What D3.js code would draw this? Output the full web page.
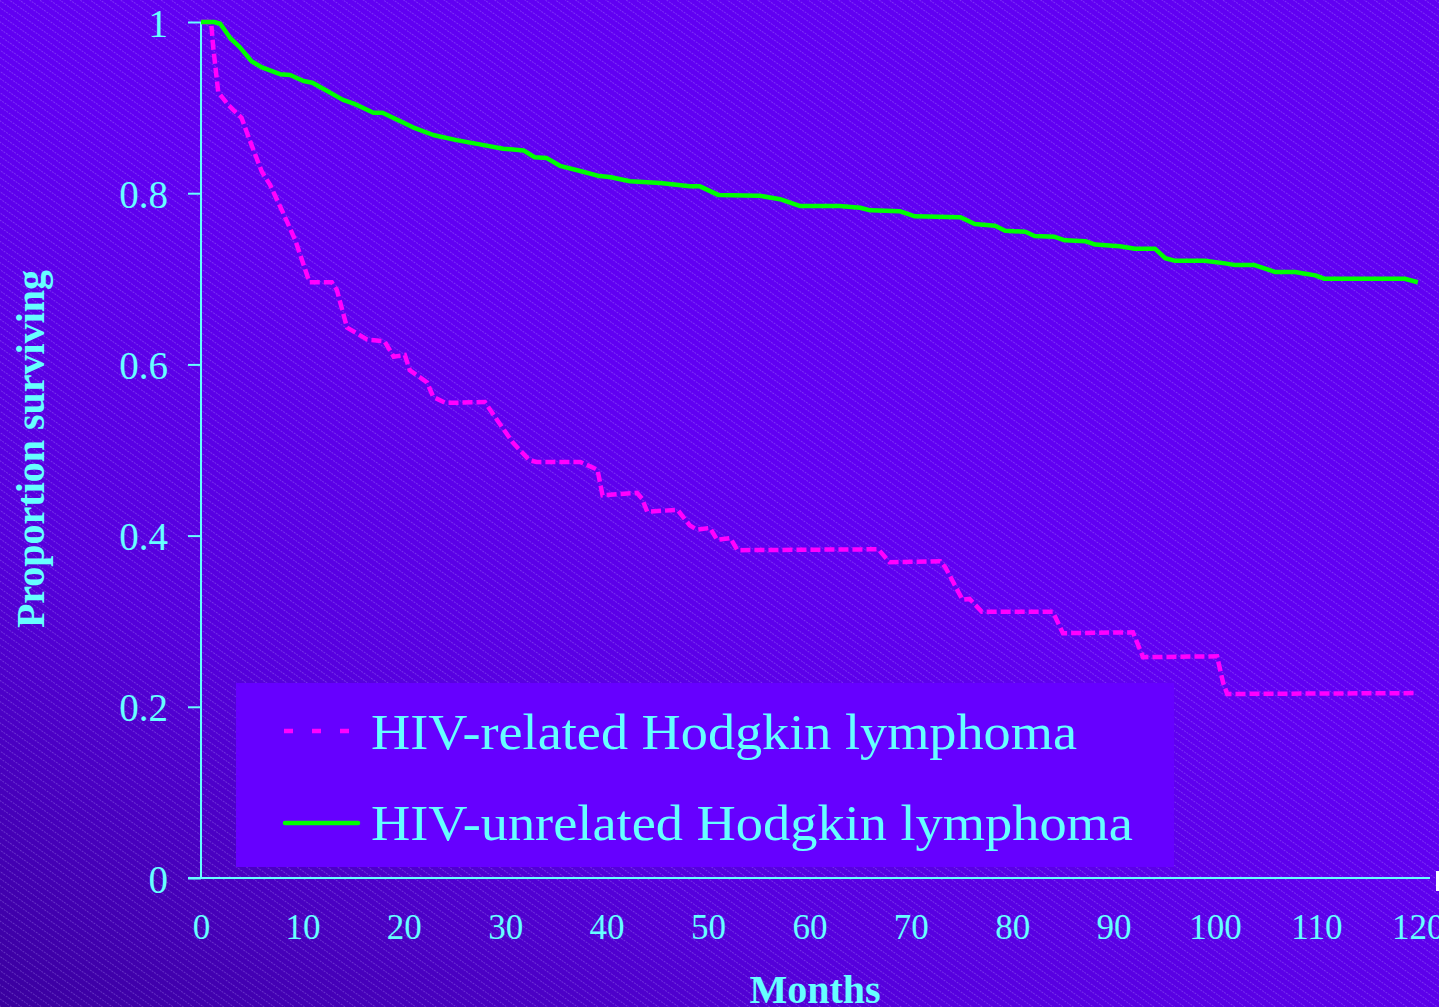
<!DOCTYPE html>
<html>
<head>
<meta charset="utf-8">
<script src="https://cdn.jsdelivr.net/npm/d3@7"></script>
<style>
  html, body { margin: 0; padding: 0; background: #5a00e6; overflow: hidden; }
  svg { display: block; font-family: "Liberation Serif", "Times New Roman", serif; }
</style>
</head>
<body>
<div class="chart-container"></div>
<script>
    // HIV-unrelated Hodgkin lymphoma (solid green)
    const unrelated_months = [0, 1.3, 1.9, 2.9, 3.8, 5.0, 6.0, 7.8, 8.8, 10.1, 11.0, 14.0, 15.0, 17.0, 17.9,
      20.9, 22.9, 25.2, 27.5, 29.8, 31.8, 32.9, 34.1, 35.4, 37.4, 39.3, 40.3, 42.3, 45.3, 48.2, 49.2,
      51.0, 55.1, 57.1, 59.1, 63.0, 65.0, 66.0, 68.9, 70.4, 74.9, 76.3, 78.3, 79.3, 81.3, 82.2, 84.2,
      85.2, 87.2, 88.2, 90.6, 92.1, 94.1, 95.1, 96.1, 99.0, 101.0, 102.0, 103.9, 105.9, 107.9, 108.9,
      109.9, 110.8, 118.7, 120];
    const unrelated_surv = [1.0, 1.0, 0.998, 0.981, 0.971, 0.954, 0.947, 0.939, 0.938, 0.931, 0.929, 0.909, 0.905, 0.894, 0.894,
      0.877, 0.868, 0.862, 0.857, 0.852, 0.850, 0.842, 0.841, 0.832, 0.826, 0.820, 0.819, 0.814, 0.812, 0.808, 0.808,
      0.798, 0.797, 0.793, 0.785, 0.785, 0.783, 0.780, 0.779, 0.773, 0.772, 0.764, 0.762, 0.756, 0.755, 0.750, 0.749,
      0.745, 0.744, 0.740, 0.738, 0.735, 0.735, 0.724, 0.721, 0.721, 0.718, 0.716, 0.716, 0.708, 0.708, 0.706,
      0.704, 0.700, 0.700, 0.696];

    // HIV-related Hodgkin lymphoma (dashed magenta)
    const related_months = [0, 1.0, 1.2, 1.7, 2.7, 3.2, 4.0, 4.8, 6.0, 6.8, 8.1, 9.3, 10.7, 12.9, 13.4,
      14.4, 16.4, 18.1, 19.0, 20.1, 20.6, 22.3, 22.9, 24.1, 28.0, 29.2, 30.8, 32.4, 33.1, 37.4, 39.1,
      39.6, 43.0, 43.5, 44.0, 47.0, 48.2, 48.9, 50.2, 50.9, 52.2, 52.9, 66.8, 67.9, 72.9, 73.4, 74.7,
      75.1, 75.8, 77.0, 84.0, 85.0, 91.9, 92.9, 100.2, 100.8, 101.2, 119.9];
    const related_surv = [1.0, 1.0, 0.971, 0.918, 0.903, 0.897, 0.888, 0.862, 0.825, 0.810, 0.777, 0.745, 0.696, 0.696, 0.687,
      0.643, 0.629, 0.627, 0.609, 0.611, 0.593, 0.579, 0.562, 0.555, 0.556, 0.535, 0.508, 0.488, 0.486, 0.486, 0.477,
      0.447, 0.450, 0.443, 0.428, 0.430, 0.412, 0.407, 0.409, 0.395, 0.397, 0.383, 0.384, 0.369, 0.370, 0.363, 0.334,
      0.325, 0.326, 0.311, 0.311, 0.286, 0.287, 0.258, 0.259, 0.228, 0.215, 0.216];

    const x_ticks = [0, 10, 20, 30, 40, 50, 60, 70, 80, 90, 100, 110, 120];
    const y_ticks = [0, 0.2, 0.4, 0.6, 0.8, 1];
    const legend_labels = ["HIV-related Hodgkin lymphoma", "HIV-unrelated Hodgkin lymphoma"];

    const width = 1439, height = 1007;
    const text_color = "#66ffff";

    const svg = d3.select('.chart-container').append('svg')
        .attr('width', width).attr('height', height);

    const defs = svg.append('defs');
    const grad = defs.append('linearGradient').attr('id', 'bg-grad')
        .attr('x1', '0').attr('y1', '1').attr('x2', '0.45').attr('y2', '0.4');
    grad.append('stop').attr('offset', '0').attr('stop-color', '#3a009e');
    grad.append('stop').attr('offset', '0.5').attr('stop-color', '#5500dc');
    grad.append('stop').attr('offset', '1').attr('stop-color', '#6000f2');

    const hatch = defs.append('pattern').attr('id', 'hatch')
        .attr('patternUnits', 'userSpaceOnUse')
        .attr('width', 12).attr('height', 5.8)
        .attr('patternTransform', 'rotate(35)');
    hatch.append('line')
        .attr('x1', 0).attr('y1', 0.5).attr('x2', 12).attr('y2', 0.5)
        .attr('stroke', 'rgba(200,180,255,0.3)').attr('stroke-width', 0.9)
        .attr('stroke-dasharray', '2,1');

    svg.append('rect').attr('width', width).attr('height', height).attr('fill', 'url(#bg-grad)');
    svg.append('rect').attr('width', width).attr('height', height).attr('fill', 'url(#hatch)');

    const x = d3.scaleLinear().domain([0, 121.2]).range([201, 1430]);
    const y = d3.scaleLinear().domain([0, 1]).range([878, 22]);

    // legend box (drawn under the curves)
    const legend = svg.append('g');
    legend.append('rect')
        .attr('x', 236).attr('y', 683).attr('width', 938).attr('height', 184)
        .attr('fill', '#6600ff');

    // axes
    const y_axis = svg.append('g')
        .attr('transform', 'translate(201,0)')
        .call(d3.axisLeft(y).tickValues(y_ticks).tickSize(13).tickFormat(d3.format('')));
    y_axis.select('.domain').attr('stroke', text_color).attr('stroke-width', 2)
        .attr('d', 'M0,' + y(1) + 'V' + y(0));
    y_axis.selectAll('.tick line').attr('stroke', text_color).attr('stroke-width', 2);
    y_axis.selectAll('.tick text')
        .attr('x', -33).attr('dy', '0.36em')
        .attr('fill', text_color)
        .style('font-size', '39px')
        .style('font-family', '"Liberation Serif", serif');

    const x_axis = svg.append('g')
        .attr('transform', 'translate(0,878)')
        .call(d3.axisBottom(x).tickValues(x_ticks).tickSize(0).tickFormat(d3.format('')));
    x_axis.select('.domain').attr('stroke', text_color).attr('stroke-width', 2)
        .attr('d', 'M188,0H1430');
    x_axis.selectAll('.tick text')
        .attr('y', 61).attr('dy', 0)
        .attr('fill', text_color)
        .style('font-size', '35px')
        .style('font-family', '"Liberation Serif", serif');

    // axis titles
    svg.append('text')
        .attr('x', 815).attr('y', 1003)
        .attr('text-anchor', 'middle')
        .attr('fill', text_color)
        .style('font-size', '40px').style('font-weight', 'bold')
        .text('Months');
    svg.append('text')
        .attr('transform', 'translate(44,449) rotate(-90)')
        .attr('text-anchor', 'middle')
        .attr('fill', text_color)
        .style('font-size', '40px').style('font-weight', 'bold')
        .text('Proportion surviving');

    // curves
    const line = d3.line().x(d => x(d[0])).y(d => y(d[1]));
    const related_data = related_months.map((m, i) => [m, related_surv[i]]);
    const unrelated_data = unrelated_months.map((m, i) => [m, unrelated_surv[i]]);

    svg.append('path')
        .datum(related_data)
        .attr('d', line)
        .attr('fill', 'none')
        .attr('stroke', '#ff00ff').attr('stroke-width', 4.5)
        .attr('stroke-dasharray', '10,4');
    svg.append('path')
        .datum(unrelated_data)
        .attr('d', line)
        .attr('fill', 'none')
        .attr('stroke', '#00ff00').attr('stroke-width', 4.5)
        .attr('stroke-linejoin', 'round');

    // legend entries
    legend.append('line')
        .attr('x1', 284).attr('x2', 352).attr('y1', 731).attr('y2', 731)
        .attr('stroke', '#ff00ff').attr('stroke-width', 4.5)
        .attr('stroke-dasharray', '9,19');
    legend.append('line')
        .attr('x1', 285).attr('x2', 358).attr('y1', 823).attr('y2', 823)
        .attr('stroke', '#00ff00').attr('stroke-width', 4.5)
        .attr('stroke-linecap', 'round');
    legend.selectAll('text.legend-label')
        .data(legend_labels)
        .enter()
        .append('text')
          .attr('class', 'legend-label')
          .attr('x', 371)
          .attr('y', (d, i) => 749 + i * 91)
          .attr('fill', text_color)
          .attr('textLength', (d, i) => i === 0 ? 706 : 762)
          .attr('lengthAdjust', 'spacingAndGlyphs')
          .style('font-size', '51px')
          .text(d => d);

    // small white mark at the right edge
    svg.append('rect').attr('x', 1436).attr('y', 871).attr('width', 3).attr('height', 20).attr('fill', '#ffffff');
</script>
</body>
</html>
